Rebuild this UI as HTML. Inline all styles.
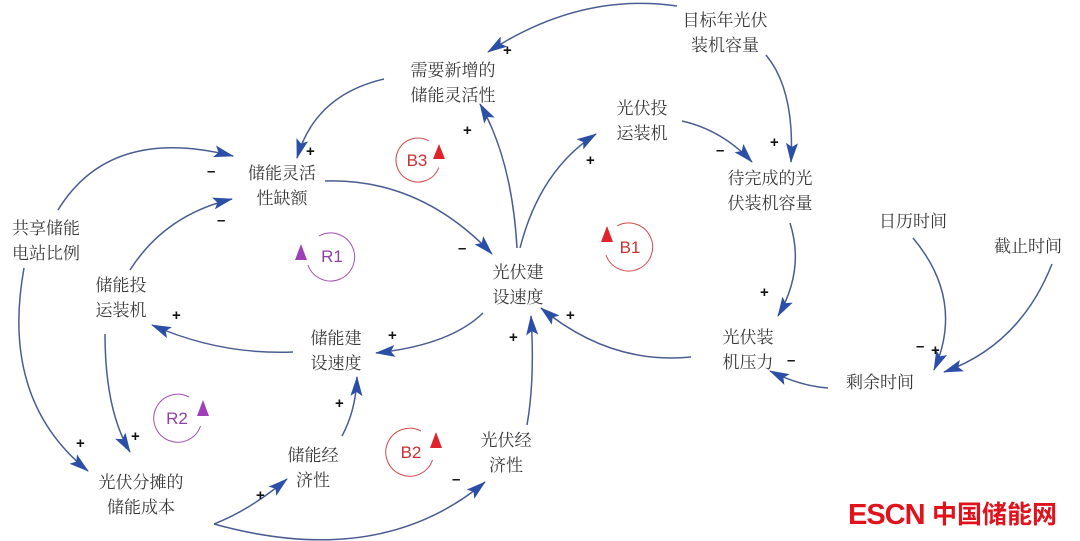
<!DOCTYPE html>
<html><head><meta charset="utf-8"><style>
html,body{margin:0;padding:0;background:#fff;width:1080px;height:541px;overflow:hidden}
svg{display:block}
.t{font-family:"Liberation Serif","Noto Serif CJK SC",serif;font-size:17px;fill:#3a3a3a;text-anchor:middle}
.s{font-family:"Liberation Sans",sans-serif;font-size:15px;fill:#111;font-weight:bold}
.e{fill:none;stroke:#4a5d92;stroke-width:1.5;marker-end:url(#a)}
.L{font-family:"Liberation Sans",sans-serif;font-size:17px;text-anchor:middle}
</style></head><body>
<svg width="1080" height="541" viewBox="0 0 1080 541">
<defs>
<marker id="a" viewBox="0 0 20 12" refX="19" refY="6" markerWidth="20" markerHeight="12" markerUnits="userSpaceOnUse" orient="auto">
<path d="M0,0 L20,6 L0,12 L4,6 Z" fill="#2b4ea6"/></marker>
</defs>
<text class="t" x="725" y="26">目标年光伏</text><text class="t" x="725" y="51">装机容量</text>
<text class="t" x="453" y="76">需要新增的</text><text class="t" x="453" y="101">储能灵活性</text>
<text class="t" x="642" y="114">光伏投</text><text class="t" x="642" y="139">运装机</text>
<text class="t" x="282" y="179">储能灵活</text><text class="t" x="282" y="204">性缺额</text>
<text class="t" x="770" y="184">待完成的光</text><text class="t" x="770" y="209">伏装机容量</text>
<text class="t" x="913" y="227">日历时间</text>
<text class="t" x="1028" y="252">截止时间</text>
<text class="t" x="46" y="234">共享储能</text><text class="t" x="46" y="259">电站比例</text>
<text class="t" x="518" y="278">光伏建</text><text class="t" x="518" y="303">设速度</text>
<text class="t" x="121" y="291">储能投</text><text class="t" x="121" y="316">运装机</text>
<text class="t" x="336" y="344">储能建</text><text class="t" x="336" y="369">设速度</text>
<text class="t" x="748" y="343">光伏装</text><text class="t" x="748" y="368">机压力</text>
<text class="t" x="880" y="388">剩余时间</text>
<text class="t" x="313" y="461">储能经</text><text class="t" x="313" y="486">济性</text>
<text class="t" x="506" y="446">光伏经</text><text class="t" x="506" y="471">济性</text>
<text class="t" x="141" y="488">光伏分摊的</text><text class="t" x="141" y="513">储能成本</text>
<path class="e" d="M677,6 Q580,-8 488,52"/>
<path class="e" d="M766,55 Q795,90 791,162"/>
<path class="e" d="M384,79 Q315,95 297,158"/>
<path class="e" d="M517,248 Q512,160 480,104"/>
<path class="e" d="M520,248 Q540,170 596,134"/>
<path class="e" d="M682,121 Q722,130 752,162"/>
<path class="e" d="M325,181 Q420,178 492,254"/>
<path class="e" d="M58,210 Q110,125 233,156"/>
<path class="e" d="M130,270 Q165,215 232,199"/>
<path class="e" d="M24,268 Q0,400 88,471"/>
<path class="e" d="M105,334 Q105,410 130,452"/>
<path class="e" d="M293,352 Q220,355 152,325"/>
<path class="e" d="M483,313 Q450,345 376,353"/>
<path class="e" d="M790,223 Q805,270 778,316"/>
<path class="e" d="M691,357 Q610,365 541,308"/>
<path class="e" d="M913,238 Q965,300 934,370"/>
<path class="e" d="M1052,264 Q1020,345 944,372"/>
<path class="e" d="M828,388 Q800,386 770,371"/>
<path class="e" d="M342,436 Q356,410 357,377"/>
<path class="e" d="M527,425 Q535,380 531,316"/>
<path class="e" d="M214,524 Q250,510 287,479"/>
<path class="e" d="M214,524 Q380,570 485,482"/>
<text class="s" x="503" y="55">+</text>
<text class="s" x="770" y="147">+</text>
<text class="s" x="306" y="156">+</text>
<text class="s" x="463" y="135">+</text>
<text class="s" x="586" y="165">+</text>
<text class="s" x="716" y="155">–</text>
<text class="s" x="207" y="176">–</text>
<text class="s" x="217" y="225">–</text>
<text class="s" x="458" y="253">–</text>
<text class="s" x="172" y="320">+</text>
<text class="s" x="388" y="340">+</text>
<text class="s" x="760" y="297">+</text>
<text class="s" x="566" y="320">+</text>
<text class="s" x="509" y="342">+</text>
<text class="s" x="76" y="448">+</text>
<text class="s" x="131" y="441">+</text>
<text class="s" x="335" y="408">+</text>
<text class="s" x="256" y="500">+</text>
<text class="s" x="452" y="484">–</text>
<text class="s" x="916" y="351">–</text>
<text class="s" x="931" y="355">+</text>
<text class="s" x="787" y="365">–</text>
<!-- loops -->
<g stroke="#d04a4a" fill="none" stroke-width="1">
<path d="M429,141 A22,22 0 1 0 438.7,167.5"/>
<path d="M617,226 A24,24 0 1 1 606,255"/>
<path d="M421,431 A24,24 0 1 0 432.5,460"/>
</g>
<path d="M439,144 L445,159 L433,159 Z" fill="#e0232a"/>
<path d="M607,226 L613,242 L601,242 Z" fill="#e0232a"/>
<path d="M436,432 L442,448 L430,448 Z" fill="#e0232a"/>
<text class="L" x="417" y="166" fill="#c83232">B3</text>
<text class="L" x="630" y="253" fill="#c83232">B1</text>
<text class="L" x="411" y="458" fill="#c83232">B2</text>
<g stroke="#a050b0" fill="none" stroke-width="1">
<path d="M319,236 A24,24 0 1 1 308,265"/>
<path d="M189,397 A24,24 0 1 0 200.5,426"/>
</g>
<path d="M301,244 L307,260 L295,260 Z" fill="#a040b8"/>
<path d="M203,400 L209,416 L197,416 Z" fill="#a040b8"/>
<text class="L" x="332" y="262" fill="#9040a8">R1</text>
<text class="L" x="177" y="424" fill="#9040a8">R2</text>
<text x="848" y="524" font-family="Liberation Sans,sans-serif" font-weight="bold" font-size="29" fill="#e0121b" letter-spacing="-1">ESCN</text>
<text x="932" y="523" font-family="Liberation Sans,Noto Sans CJK SC,sans-serif" font-weight="bold" font-size="25" fill="#e0121b">中国储能网</text>
</svg>
</body></html>
